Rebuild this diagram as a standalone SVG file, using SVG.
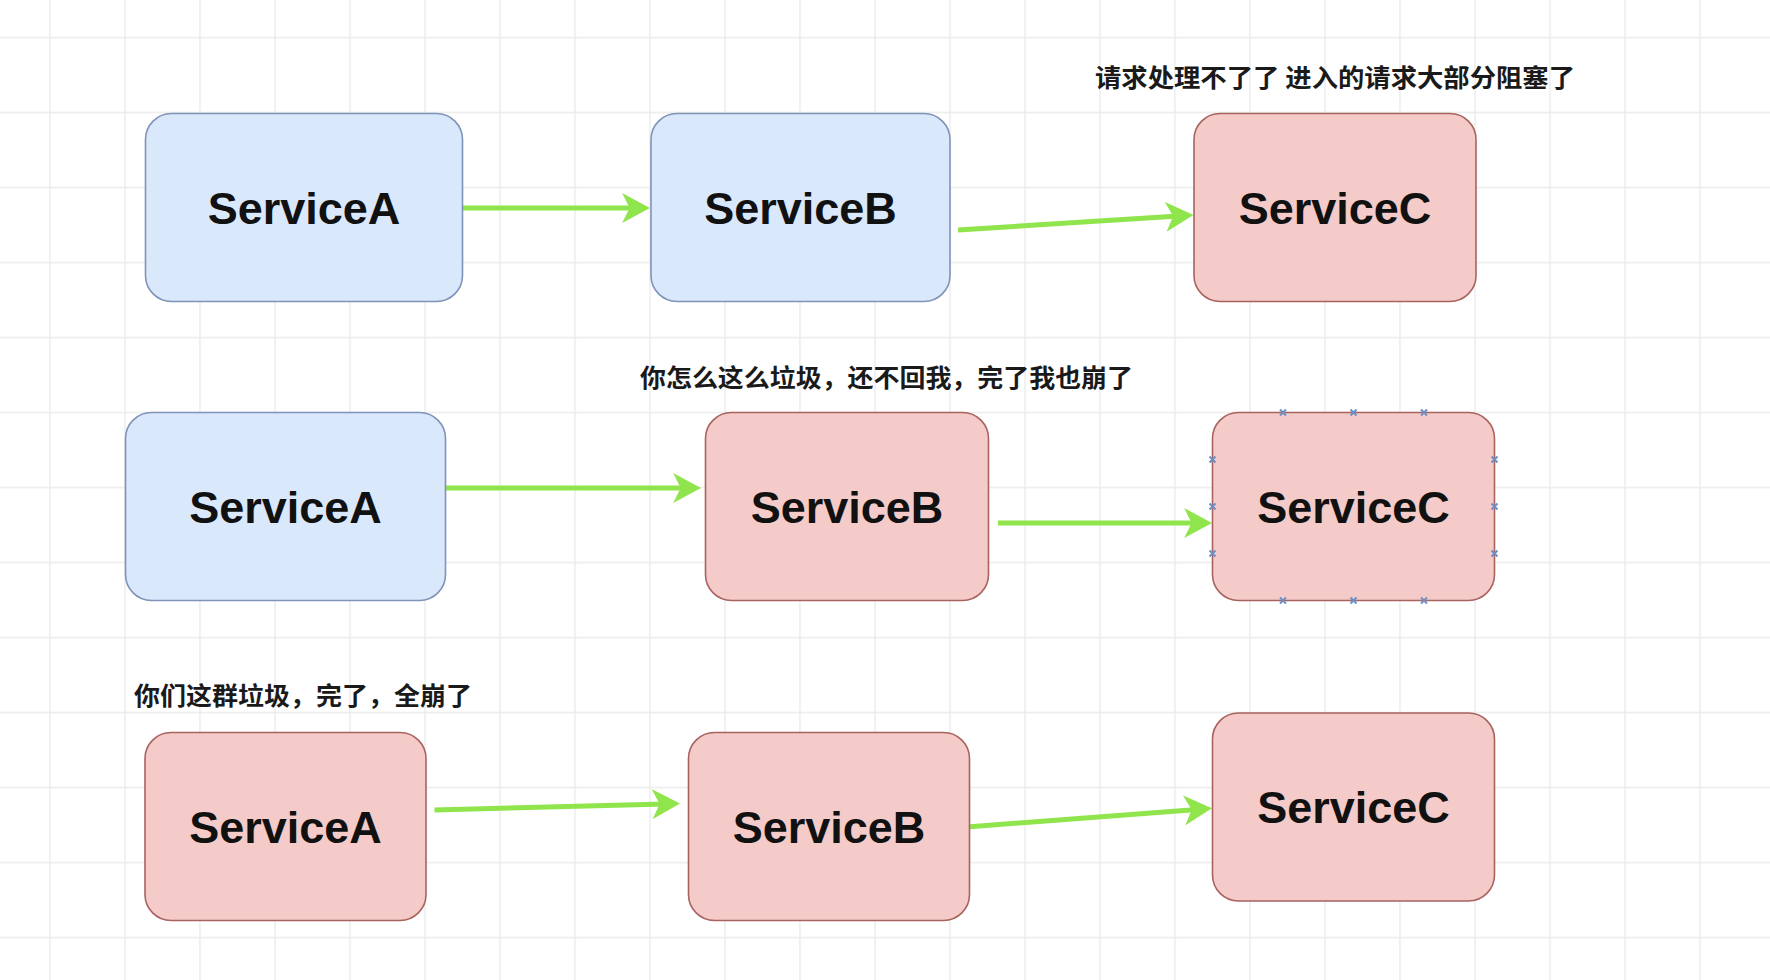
<svg xmlns="http://www.w3.org/2000/svg" width="1770" height="980" viewBox="0 0 1770 980">
<style>
.blue{fill:#dae8fc;stroke:#7f93b8;stroke-width:1.6}
.pink{fill:#f4cbc8;stroke:#a8635f;stroke-width:1.6}
.lbl{font-family:"Liberation Sans",Arial,sans-serif;font-weight:bold;font-size:45px;fill:#111;text-anchor:middle}
.note{font-family:"Noto Sans CJK SC","Liberation Sans",sans-serif;font-weight:bold;font-size:25px;fill:#1a1a1a}
.edge{fill:none;stroke:#8fe54b;stroke-width:5}
.pt{stroke:#6f8fc4;stroke-width:2;fill:none}
</style>
<defs>
<pattern id="grid" width="75" height="75" patternUnits="userSpaceOnUse" x="49.25" y="36.75">
<path d="M0 0.75H75M0.75 0V75" stroke="#ebebeb" stroke-width="1.5" fill="none"/>
</pattern>
<marker id="arr" markerUnits="userSpaceOnUse" markerWidth="28" markerHeight="30" viewBox="0 0 26 28" refX="12" refY="14" orient="auto">
<path d="M0 0L26 14L0 28L7 14Z" fill="#8fe54b"/>
</marker>
</defs>
<rect width="1770" height="980" fill="#ffffff"/>
<rect width="1770" height="980" fill="url(#grid)"/>

<g id="edges">
<line class="edge" x1="463" y1="208" x2="635" y2="208" marker-end="url(#arr)"/>
<line class="edge" x1="958" y1="230" x2="1178.5" y2="215.9" marker-end="url(#arr)"/>
<line class="edge" x1="446" y1="488" x2="686" y2="488" marker-end="url(#arr)"/>
<line class="edge" x1="998" y1="523" x2="1197" y2="523" marker-end="url(#arr)"/>
<line class="edge" x1="434.5" y1="810" x2="665" y2="803.9" marker-end="url(#arr)"/>
<line class="edge" x1="970" y1="826.7" x2="1197" y2="809.4" marker-end="url(#arr)"/>
</g>

<g id="note1"><text class="note" x="1095" y="86.5" textLength="480" lengthAdjust="spacingAndGlyphs">请求处理不了了 进入的请求大部分阻塞了</text></g>
<g id="note2"><text class="note" x="640" y="387" textLength="493" lengthAdjust="spacingAndGlyphs">你怎么这么垃圾，还不回我，完了我也崩了</text></g>
<g id="note3"><text class="note" x="134" y="705" textLength="338" lengthAdjust="spacingAndGlyphs">你们这群垃圾，完了，全崩了</text></g>

<g id="r1A"><rect class="blue" x="145.5" y="113.5" width="317" height="188" rx="26"/><text class="lbl" x="304" y="223.5">ServiceA</text></g>
<g id="r1B"><rect class="blue" x="651" y="113.5" width="299" height="188" rx="26"/><text class="lbl" x="800.5" y="223.5">ServiceB</text></g>
<g id="r1C"><rect class="pink" x="1194" y="113.5" width="282" height="188" rx="26"/><text class="lbl" x="1335" y="223.5">ServiceC</text></g>

<g id="r2A"><rect class="blue" x="125.5" y="412.5" width="320" height="188" rx="26"/><text class="lbl" x="285.5" y="522.5">ServiceA</text></g>
<g id="r2B"><rect class="pink" x="705.5" y="412.5" width="283" height="188" rx="26"/><text class="lbl" x="847" y="522.5">ServiceB</text></g>
<g id="r2C"><rect class="pink" x="1212.5" y="412.5" width="282" height="188" rx="26"/><text class="lbl" x="1353.5" y="522.5">ServiceC</text>
<path class="pt" d="M1280 409.5l6 6m0-6l-6 6M1350.5 409.5l6 6m0-6l-6 6M1421 409.5l6 6m0-6l-6 6M1280 597.5l6 6m0-6l-6 6M1350.5 597.5l6 6m0-6l-6 6M1421 597.5l6 6m0-6l-6 6M1209.5 456.5l6 6m0-6l-6 6M1209.5 503.5l6 6m0-6l-6 6M1209.5 550.5l6 6m0-6l-6 6M1491.5 456.5l6 6m0-6l-6 6M1491.5 503.5l6 6m0-6l-6 6M1491.5 550.5l6 6m0-6l-6 6"/>
</g>

<g id="r3A"><rect class="pink" x="145" y="732.5" width="281" height="188" rx="26"/><text class="lbl" x="285.5" y="842.5">ServiceA</text></g>
<g id="r3B"><rect class="pink" x="688.5" y="732.5" width="281" height="188" rx="26"/><text class="lbl" x="829" y="842.5">ServiceB</text></g>
<g id="r3C"><rect class="pink" x="1212.5" y="713" width="282" height="188" rx="26"/><text class="lbl" x="1353.5" y="823">ServiceC</text></g>
</svg>
